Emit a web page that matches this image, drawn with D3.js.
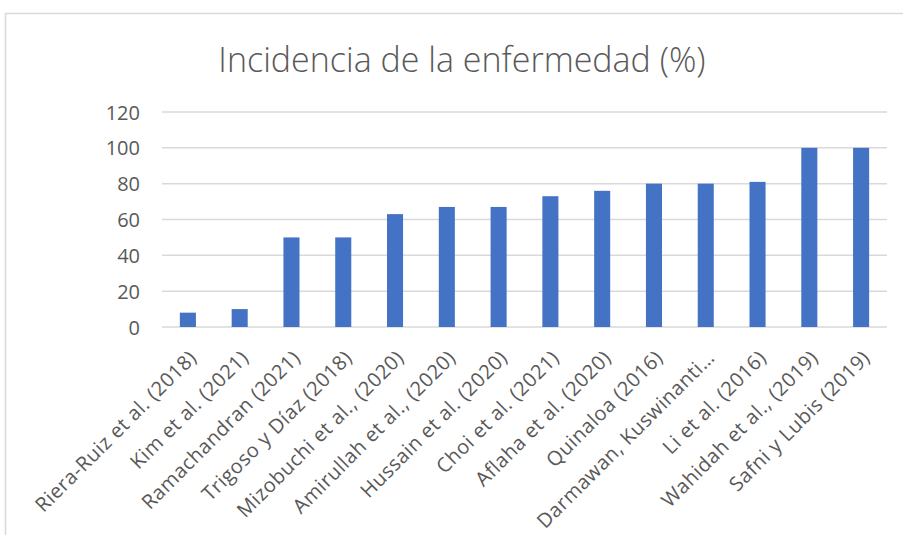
<!DOCTYPE html>
<html>
<head>
<meta charset="utf-8">
<script src="https://cdn.jsdelivr.net/npm/d3@7"></script>
<style>
  body { margin: 0; background: #fff; }
  svg text { font-family: "Open Sans", Lato, sans-serif; fill: #595959; }
</style>
</head>
<body>
<div id="chart"></div>
<script>
// study names and disease incidence (%)
var studies = [
  "Riera-Ruiz et al. (2018)", "Kim et al. (2021)", "Ramachandran (2021)",
  "Trigoso y Díaz (2018)", "Mizobuchi et al., (2020)", "Amirullah et al., (2020)",
  "Hussain et al. (2020)", "Choi et al. (2021)", "Aflaha et al. (2020)",
  "Quinaloa (2016)", "Darmawan, Kuswinanti…", "Li et al. (2016)",
  "Wahidah et al., (2019)", "Safni y Lubis (2019)"
];
var incidence = [8, 10, 50, 50, 63, 67, 67, 73, 76, 80, 80, 81, 100, 100];
var yTicks = [0, 20, 40, 60, 80, 100, 120];
var chartTitle = "Incidencia de la enfermedad (%)";

var W = 903, H = 535;
var margin = {top: 112, right: 16, bottom: 208, left: 162};
var width = W - margin.left - margin.right;
var height = H - margin.top - margin.bottom;

var svg = d3.select("#chart").append("svg")
  .attr("width", W)
  .attr("height", H);

// chart frame
svg.append("rect")
  .attr("x", 5.5).attr("y", 13.5)
  .attr("width", W + 10).attr("height", H + 10)
  .attr("fill", "none")
  .attr("stroke", "#d9d9d9")
  .attr("stroke-width", 1.5);

svg.append("text")
  .attr("x", 462).attr("y", 72)
  .attr("text-anchor", "middle")
  .style("font-size", "34px")
  .style("font-weight", 300)
  .text(chartTitle);

var g = svg.append("g")
  .attr("transform", "translate(" + margin.left + "," + margin.top + ")");

var x = d3.scaleBand().domain(studies).range([0, width]).paddingInner(0.69).paddingOuter(0.345);
var y = d3.scaleLinear().domain([0, 120]).range([height, 0]);

// gridlines
g.append("g")
  .selectAll("line")
  .data(yTicks)
  .enter()
  .append("line")
    .attr("x1", 0).attr("x2", width)
    .attr("y1", function(d) { return y(d); })
    .attr("y2", function(d) { return y(d); })
    .attr("stroke", "#d9d9d9")
    .attr("stroke-width", 1.5);

var yAxis = d3.axisLeft(y).tickValues(yTicks).tickSize(0).tickPadding(22);
g.append("g")
  .call(yAxis)
  .call(function(s) { s.select(".domain").remove(); })
  .selectAll("text")
    .style("font-size", "20px")
    .attr("dy", "0.35em");

g.selectAll("rect.bar")
  .data(incidence)
  .enter()
  .append("rect")
    .attr("class", "bar")
    .attr("x", function(d, i) { return x(studies[i]); })
    .attr("width", x.bandwidth())
    .attr("y", function(d) { return y(d); })
    .attr("height", function(d) { return height - y(d); })
    .attr("fill", "#4472c4");

var xAxis = d3.axisBottom(x).tickSize(0).tickPadding(0);
g.append("g")
  .attr("transform", "translate(0," + height + ")")
  .call(xAxis)
  .call(function(s) { s.select(".domain").remove(); })
  .selectAll("text")
    .style("font-size", "20px")
    .style("letter-spacing", "0.5px")
    .attr("text-anchor", "end")
    .attr("dy", "0")
    .attr("transform", "translate(10,32) rotate(-45)");
</script>
</body>
</html>
